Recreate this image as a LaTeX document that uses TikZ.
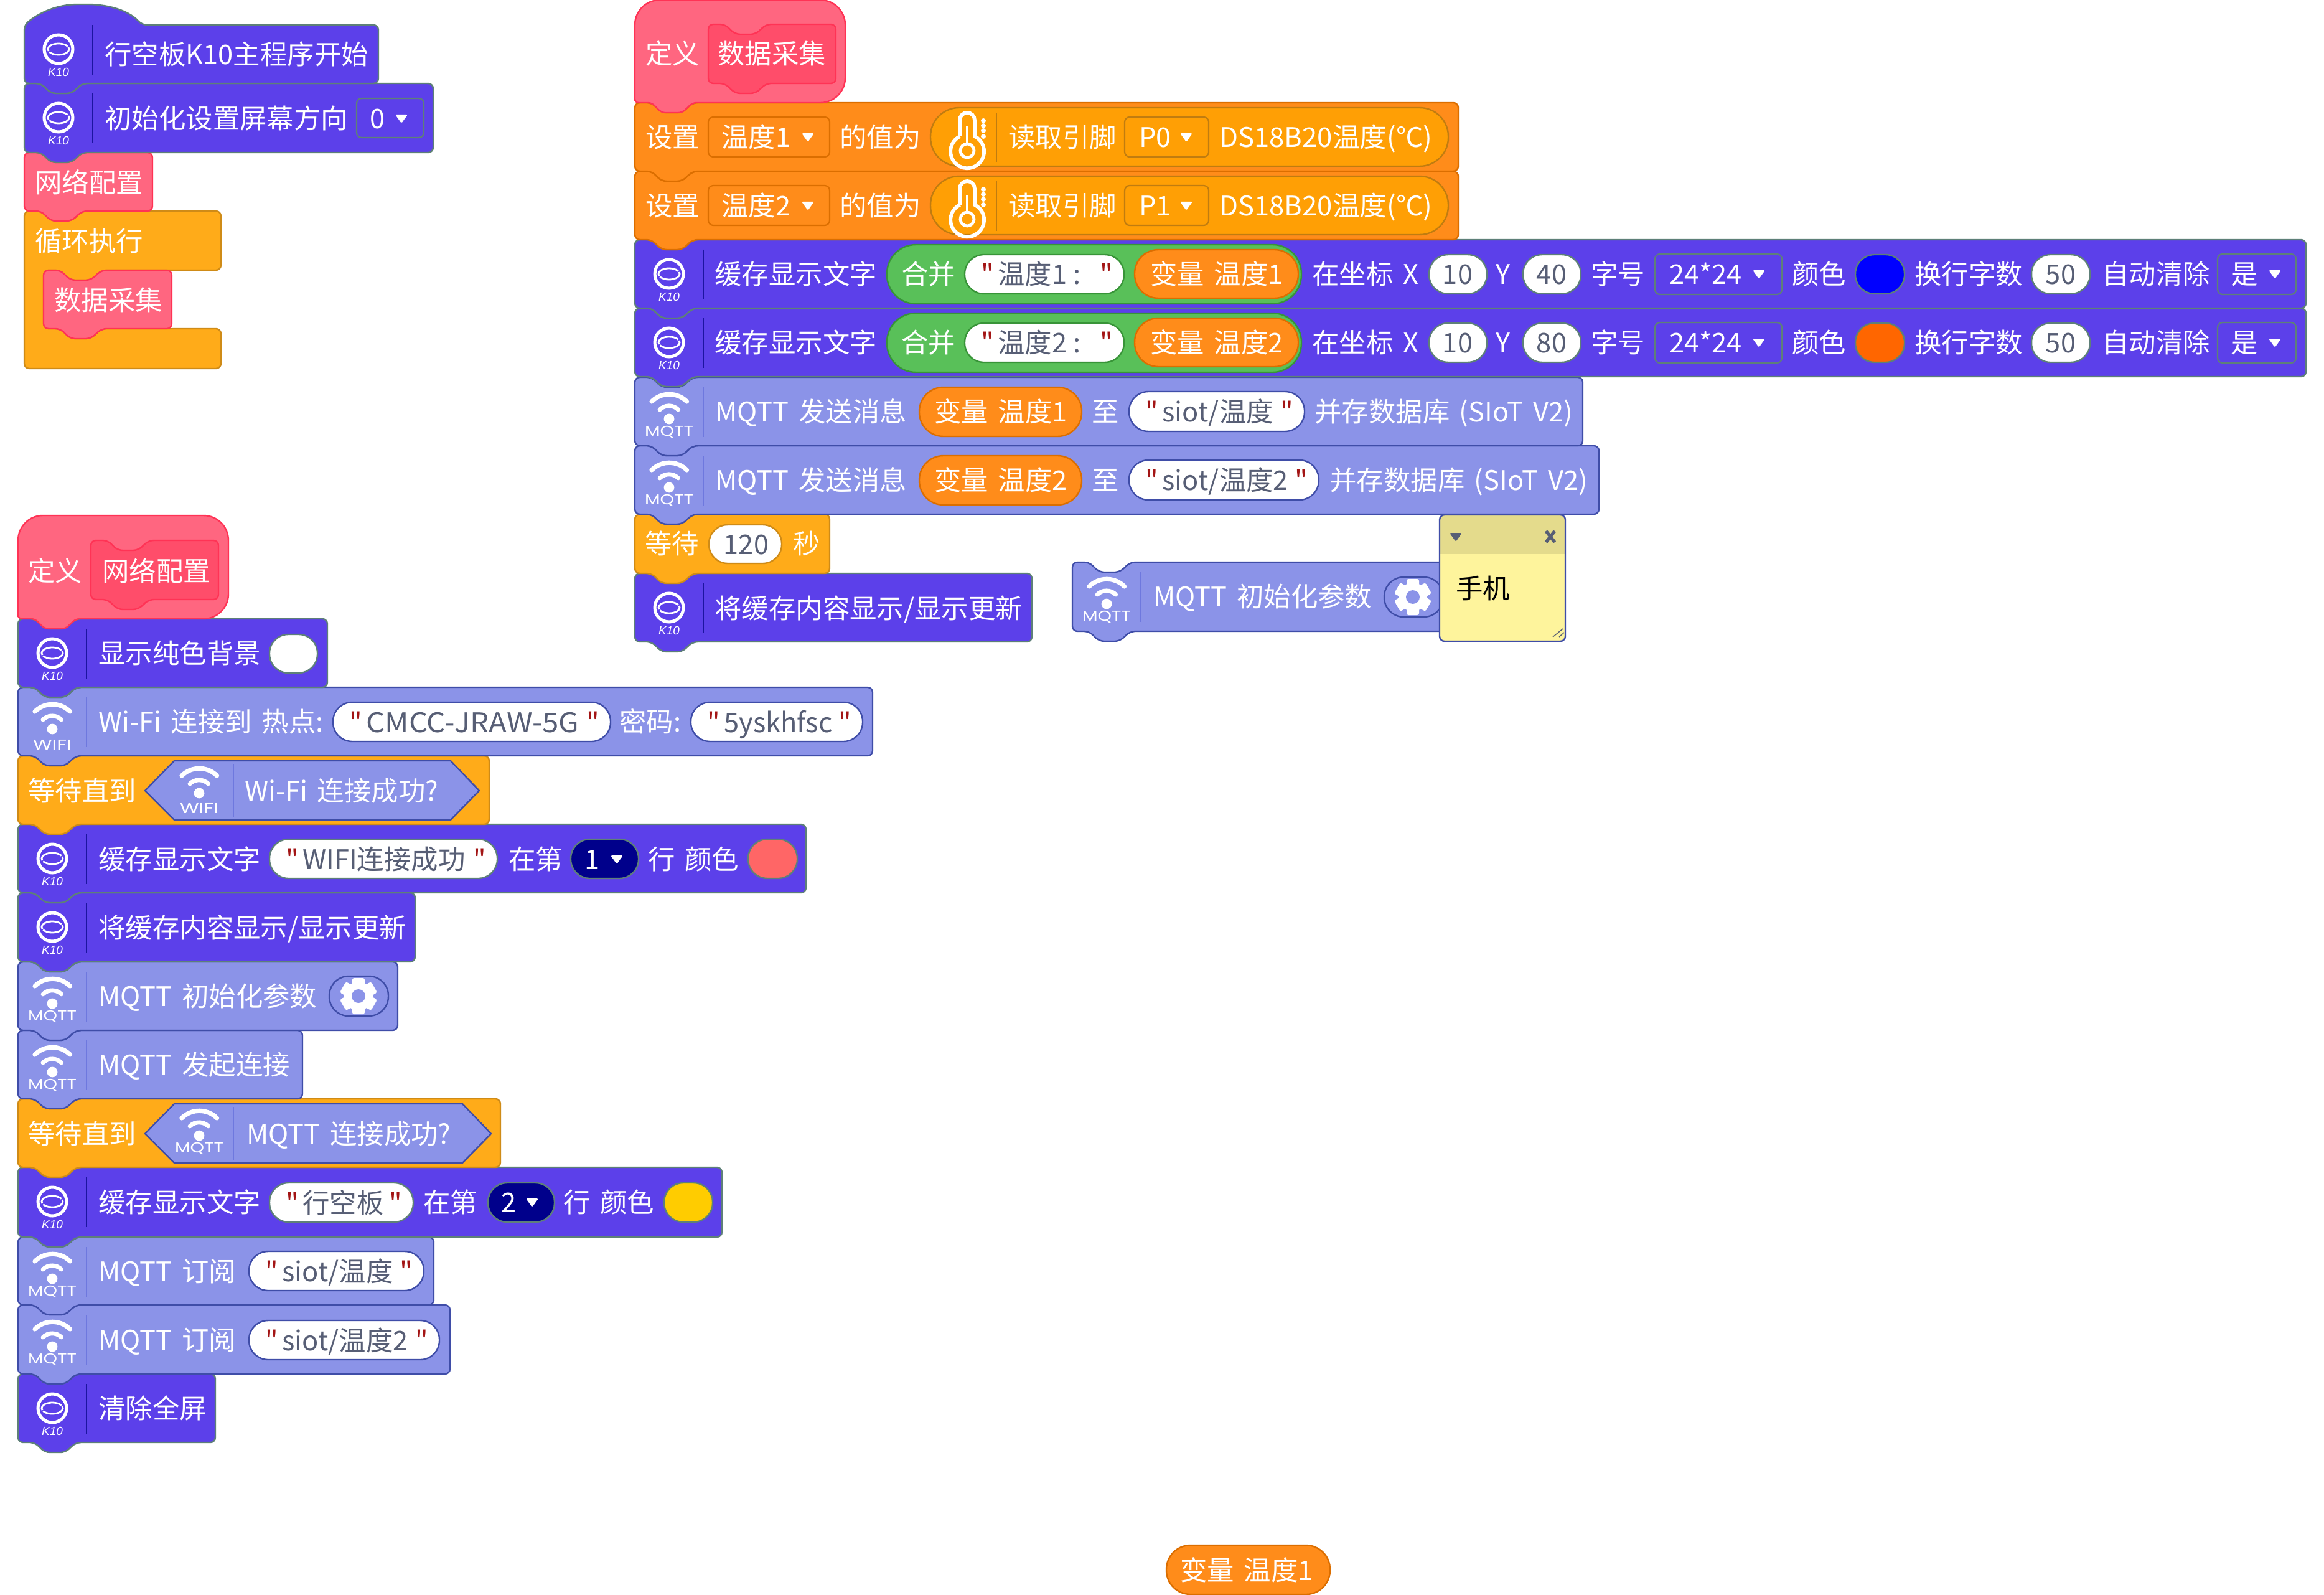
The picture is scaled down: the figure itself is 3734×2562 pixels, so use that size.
\documentclass[tikz,border=0pt]{standalone}
\usepackage{graphicx}
\usepackage{fontspec}
\setmainfont[WordSpace=1.6]{Noto Sans CJK SC}
\newfontfamily\qfont{Noto Sans CJK SC}
\newfontfamily\kfont{Liberation Sans}
\newfontfamily\wfont{Poppins}
\definecolor{kfill}{HTML}{5C40EA}
\definecolor{kedge}{HTML}{5E8078}
\definecolor{ksep}{HTML}{1C14A0}
\definecolor{mfill}{HTML}{8B93E8}
\definecolor{medge}{HTML}{3F4DA8}
\definecolor{msep}{HTML}{6E78DE}
\definecolor{ofill}{HTML}{FF8C1A}
\definecolor{oedge}{HTML}{DB6E00}
\definecolor{rfill}{HTML}{FF9F05}
\definecolor{redge}{HTML}{C07C10}
\definecolor{yfill}{HTML}{FFAB19}
\definecolor{yedge}{HTML}{CF8B17}
\definecolor{pfill}{HTML}{FF6680}
\definecolor{pedge}{HTML}{FF3355}
\definecolor{pinner}{HTML}{FF4D6A}
\definecolor{gfill}{HTML}{59C059}
\definecolor{gedge}{HTML}{389438}
\definecolor{strgrey}{HTML}{575E75}
\definecolor{quotered}{HTML}{A31515}
\definecolor{navyfield}{HTML}{00008B}
\definecolor{notehead}{HTML}{E4DB8C}
\definecolor{notebody}{HTML}{FEF49C}
\definecolor{swatchblue}{HTML}{0000FF}
\definecolor{swatchorange}{HTML}{FF6600}
\definecolor{swatchred}{HTML}{FF6666}
\definecolor{swatchyellow}{HTML}{FFCC00}
\tikzset{
  shapeline/.style={line width=1.2pt,rounded corners=4pt,line join=round},
  kblock/.style={shapeline,fill=kfill,draw=kedge},
  mblock/.style={shapeline,fill=mfill,draw=medge},
  oblock/.style={shapeline,fill=ofill,draw=oedge},
  yblock/.style={shapeline,fill=yfill,draw=yedge},
  pblock/.style={shapeline,fill=pfill,draw=pedge},
  qblock/.style={shapeline,fill=pinner,draw=pedge},
  lbl/.style={font=\fontsize{21.7}{21.7}\selectfont,text=white,inner sep=0pt,text height=19.1pt,text depth=2.6pt},
  grey/.style={lbl,text=strgrey},
  quotemark/.style={lbl,text=quotered,font=\qfont\fontsize{21.7}{21.7}\selectfont},
  fieldbox/.style={line width=1.1pt,rounded corners=4pt}
}
% stacking block with a notch on top and a tab below
\newcommand\stk[5]{\draw[#1] (#2,#3) -- (#2+27,#3) -- (#2+43,#3+16) -- (#2+76,#3+16) -- (#2+93,#3) -- (#4,#3) -- (#4,#5) -- (#2+93,#5) -- (#2+76,#5+16) -- (#2+43,#5+16) -- (#2+27,#5) -- (#2,#5) -- cycle;}
% pill shape with fully rounded ends
\newcommand\pill[6]{\pgfmathsetmacro\pr{((#4)-(#2))*0.245}\draw[line width=1.2pt,fill=#5,draw=#6,rounded corners=\pr pt] (#1,#2) rectangle (#3,#4);}
\newcommand\tx[3]{\node[lbl,anchor=west] at (#1,#2) {#3};}
\newcommand\tc[3]{\node[lbl] at (#1,#2) {#3};}
\newcommand\gc[3]{\node[grey] at (#1,#2) {#3};}
% string input: quotes sit at fixed distances from the pill ends
\newcommand\strin[6]{\pill{#1}{#2}{#3}{#4}{white}{#5}
  \pgfmathsetmacro\sy{((#2)+(#4))/2}
  \node[quotemark,anchor=west] at (#1+26,\sy) {"};
  \node[grey,anchor=west] at (#1+53,\sy) {#6};
  \node[quotemark,anchor=west] at (#3-39,\sy) {"};}
\newcommand\drop[2]{\fill[white,rounded corners=0.9pt] (#1-10,#2-6) -- (#1+10,#2-6) -- (#1,#2+8) -- cycle;}
\newcommand\field[5]{\draw[fieldbox,draw=#5] (#1,#2) rectangle (#3,#4);}
% controller logo with its divider
\newcommand\kicon[2]{
  \draw[white,line width=2.5pt] (#1+55,#2+55) circle[radius=11.5pt];
  \draw[white,line width=1.4pt] (#1+55+14.7,#2+55-4.5) arc[start angle=30,end angle=200,x radius=8.5pt,y radius=4.5pt];
  \draw[white,line width=1.4pt] (#1+55-14.7,#2+55+4.5) arc[start angle=210,end angle=380,x radius=8.5pt,y radius=4.5pt];
  \node[inner sep=0pt,text=white,font=\kfont\itshape\fontsize{9.5}{9.5}\selectfont] at (#1+55,#2+92) {K10};
  \draw[ksep,line width=1.2pt] (#1+110,#2+16) -- (#1+110,#2+96);}
% wireless symbol with a caption
\newcommand\wifi[5]{
  \fill[white] (#1+55,#2+67) circle[radius=4.2pt];
  \draw[white,line width=3.6pt,line cap=round] (#1+55-28,#2+67-28) arc[start angle=135,end angle=45,radius=20pt];
  \draw[white,line width=3.4pt,line cap=round] (#1+55-15,#2+67-15) arc[start angle=135,end angle=45,radius=10.5pt];
  \node[inner sep=0pt,text=white,font=\wfont\fontsize{11.5}{11.5}\selectfont] at (#1+55,#2+#4) {\resizebox{#3}{\height}{#5}};}
\newcommand\msep[2]{\draw[msep,line width=1pt] (#1,#2+16) -- (#1,#2+96);}
\newcommand\gear[3]{
  \fill[white] (#1,#2) circle[radius=11.5pt];
  \foreach \a in {0,60,120}{\fill[white,rotate around={\a:(#1,#2)},rounded corners=1.5pt] (#1-10,#2-29) rectangle (#1+10,#2+29);}
  \fill[#3] (#1,#2) circle[radius=5.5pt];}
\newcommand\thermo[2]{
  \draw[white,line width=2.9pt] (#1-12,#2+54) -- (#1-12,#2+28) arc[start angle=180,end angle=0,radius=6pt] -- (#1+12,#2+54) arc[start angle=64,end angle=-244,radius=13.5pt];
  \draw[white,line width=2.4pt] (#1,#2+77) circle[radius=5.5pt];
  \draw[white,line width=2pt] (#1,#2+38) -- (#1,#2+66);
  \foreach \d in {29,37,45,54}{\fill[white] (#1+26,#2+\d) circle[radius=2pt];}}
% "set variable" row
\newcommand\setrow[3]{
  \tx{1037}{#1+55}{设置}
  \field{1138}{#1+23}{1333}{#1+87}{oedge}
  \tx{1159}{#1+55}{#2}\drop{1298}{#1+55}
  \tx{1349}{#1+55}{的值为}
  \pill{1495}{#1+8}{2327}{#1+102}{rfill}{redge}
  \thermo{1554}{#1}
  \draw[redge,line width=0.8pt] (1601,#1+16) -- (1601,#1+96);
  \tx{1620}{#1+55}{读取引脚}
  \field{1807}{#1+23}{1942}{#1+87}{redge}
  \tx{1830}{#1+55}{#3}\drop{1906}{#1+55}
  \tx{1959}{#1+55}{\resizebox{171pt}{\height}{DS18B20温度(℃)}}}
% "buffer text at position" row
\newcommand\bufrow[5]{
  \kicon{1020}{#1}
  \tx{1148}{#1+55}{缓存显示文字}
  \pill{1425}{#1+8}{2091}{#1+103}{gfill}{gedge}
  \tx{1448}{#1+55}{合并}
  \strin{1550}{#1+24}{1806}{#1+87}{gedge}{#2}
  \pill{1823}{#1+16}{2086}{#1+94}{ofill}{oedge}
  \tc{1955}{#1+55}{变量 #3}
  \tx{2108}{#1+55}{在坐标 X}
  \pill{2296}{#1+24}{2389}{#1+87}{white}{kedge}\gc{2342}{#1+55}{10}
  \tc{2415}{#1+55}{Y}
  \pill{2447}{#1+24}{2540}{#1+87}{white}{kedge}\gc{2493}{#1+55}{#4}
  \tx{2556}{#1+55}{字号}
  \field{2659}{#1+23}{2863}{#1+88}{kedge}
  \tx{2682}{#1+55}{24*24}\drop{2826}{#1+55}
  \tx{2879}{#1+55}{颜色}
  \pill{2981}{#1+24}{3060}{#1+87}{#5}{kedge}
  \tx{3076}{#1+55}{换行字数}
  \pill{3264}{#1+24}{3358}{#1+87}{white}{kedge}\gc{3311}{#1+55}{50}
  \tx{3377}{#1+55}{自动清除}
  \field{3563}{#1+23}{3689}{#1+88}{kedge}
  \tx{3584}{#1+55}{是}\drop{3655}{#1+55}}
% "send message" row
\newcommand\sendrow[5]{
  \wifi{1020}{#1}{39pt}{88}{MQTT}
  \msep{1130}{#1}
  \tx{1149}{#1+55}{MQTT 发送消息}
  \pill{1477}{#1+16}{1738}{#1+95}{ofill}{oedge}
  \tc{1608}{#1+55}{变量 #2}
  \tx{1754}{#1+55}{至}
  \strin{1814}{#1+23}{#4}{#1+87}{medge}{#3}
  \tx{#5}{#1+55}{并存数据库 (SIoT V2)}}
\begin{document}
\begin{tikzpicture}[x=0.5pt,y=-0.5pt]
\useasboundingbox (0,0) rectangle (3734,2562);
\fill[white] (0,0) rectangle (3734,2562);

% ---- start-up stack
\draw[yblock] (39,339) -- (66,339) -- (82,355) -- (115,355) -- (132,339) -- (355,339) -- (355,434) -- (163,434) -- (146,450) -- (113,450) -- (97,434) -- (70,434) -- (70,528) -- (97,528) -- (113,544) -- (146,544) -- (163,528) -- (355,528) -- (355,592) -- (39,592) -- cycle;
\stk{pblock}{70}{434}{276}{528}
\stk{pblock}{39}{245}{245}{339}
\stk{kblock}{39}{134}{696}{245}
\draw[kblock] (39,40) .. controls (70,15) and (100,7) .. (133,7) .. controls (170,7) and (205,15) .. (228,40) -- (608,40) -- (608,134) -- (132,134) -- (115,150) -- (82,150) -- (66,134) -- (39,134) -- cycle;
\kicon{39}{24}
\tx{168}{87}{行空板K10主程序开始}
\kicon{39}{134}
\tx{168}{190}{初始化设置屏幕方向}
\field{573}{158}{681}{221}{kedge}
\tc{607}{190}{0}\drop{645}{190}
\tx{56}{293}{网络配置}
\tx{56}{387}{循环执行}
\tx{87}{482}{数据采集}

% ---- data collection stack
\stk{kblock}{1020}{921}{1658}{1031}
\stk{yblock}{1020}{826}{1333}{921}
\stk{mblock}{1020}{716}{2569}{826}
\stk{mblock}{1020}{606}{2543}{716}
\stk{kblock}{1020}{495}{3705}{605}
\stk{kblock}{1020}{385}{3705}{495}
\stk{oblock}{1020}{275}{2343}{385}
\stk{oblock}{1020}{165}{2343}{275}
\draw[pblock] (1020,165) [rounded corners=20pt] -- (1020,0) -- (1358,0) -- (1358,165) [rounded corners=3pt] -- (1113,165) -- (1096,181) -- (1063,181) -- (1047,165) -- (1020,165) -- cycle;
\stk{qblock}{1138}{39}{1343}{134}
\tx{1037}{86}{定义}
\tx{1153}{86}{数据采集}
\setrow{165}{温度1}{P0}
\setrow{275}{温度2}{P1}
\bufrow{385}{温度1\hspace{5pt}:}{温度1}{40}{swatchblue}
\bufrow{495}{温度2\hspace{5pt}:}{温度2}{80}{swatchorange}
\sendrow{606}{温度1}{siot/温度}{2096}{2112}
\sendrow{716}{温度2}{siot/温度2}{2119}{2136}
\tx{1036}{873}{等待}
\pill{1139}{843}{1256}{905}{white}{yedge}\gc{1199}{874}{120}
\tx{1274}{873}{秒}
\kicon{1020}{921}
\tx{1148}{977}{将缓存内容显示/显示更新}

% ---- free block with its note
\stk{mblock}{1723}{903}{2330}{1014}
\wifi{1723}{903}{39pt}{88}{MQTT}
\msep{1833}{903}
\tx{1853}{958}{MQTT 初始化参数}
\pill{2224}{927}{2319}{991}{mfill}{medge}
\gear{2270}{959}{mfill}
\begin{scope}
  \clip[rounded corners=4pt] (2313,827) rectangle (2515,1030);
  \fill[notebody] (2313,827) rectangle (2515,1030);
  \fill[notehead] (2313,827) rectangle (2515,890);
\end{scope}
\draw[line width=1.2pt,draw=medge,rounded corners=4pt] (2313,827) rectangle (2515,1030);
\fill[strgrey,rounded corners=0.8pt] (2329,856) -- (2349,856) -- (2339,870) -- cycle;
\draw[strgrey,line width=2.6pt] (2484,853) -- (2498,871) (2498,853) -- (2484,871);
\draw[strgrey,line width=0.7pt] (2495,1023) -- (2511,1010) (2505,1023) -- (2513,1016);
\node[lbl,text=black,anchor=west] at (2339,945) {手机};

% ---- network setup stack
\stk{kblock}{29}{2207}{346}{2317}
\stk{mblock}{29}{2096}{723}{2207}
\stk{mblock}{29}{1987}{697}{2096}
\stk{kblock}{29}{1875}{1160}{1987}
\stk{yblock}{29}{1765}{804}{1875}
\stk{mblock}{29}{1655}{486}{1765}
\stk{mblock}{29}{1545}{639}{1655}
\stk{kblock}{29}{1434}{667}{1545}
\stk{kblock}{29}{1324}{1295}{1434}
\stk{yblock}{29}{1214}{786}{1324}
\stk{mblock}{29}{1104}{1402}{1214}
\stk{kblock}{29}{994}{526}{1104}
\draw[pblock] (29,994) [rounded corners=20pt] -- (29,828) -- (367,828) -- (367,994) [rounded corners=3pt] -- (122,994) -- (105,1010) -- (72,1010) -- (56,994) -- (29,994) -- cycle;
\stk{qblock}{146}{868}{351}{963}
\tx{45}{917}{定义}
\tx{164}{917}{网络配置}

\kicon{29}{994}
\tx{158}{1049}{显示纯色背景}
\pill{433}{1019}{510}{1081}{white}{kedge}

\wifi{29}{1104}{31pt}{92}{WIFI}
\msep{139}{1104}
\tx{158}{1159}{Wi-Fi 连接到 热点:}
\strin{535}{1128}{981}{1191}{medge}{\resizebox{171pt}{\height}{CMCC-JRAW-5G}}
\tx{995}{1159}{密码:}
\strin{1110}{1128}{1386}{1191}{medge}{5yskhfsc}

\tx{45}{1270}{等待直到}
\draw[line width=1.2pt,fill=mfill,draw=medge,line join=round] (233,1270) -- (280,1222) -- (724,1222) -- (770,1270) -- (724,1317) -- (280,1317) -- cycle;
\wifi{265}{1207}{31pt}{91}{WIFI}
\draw[msep,line width=1pt] (375,1227) -- (375,1312);
\tx{393}{1270}{Wi-Fi 连接成功?}

\kicon{29}{1324}
\tx{158}{1380}{缓存显示文字}
\strin{433}{1348}{799}{1411}{kedge}{WIFI连接成功}
\tx{817}{1380}{在第}
\pill{917}{1348}{1026}{1411}{navyfield}{kedge}
\tc{952}{1380}{1}\drop{991}{1380}
\tx{1041}{1380}{行 颜色}
\pill{1202}{1348}{1281}{1411}{swatchred}{kedge}

\kicon{29}{1434}
\tx{158}{1490}{将缓存内容显示/显示更新}

\wifi{29}{1545}{39pt}{88}{MQTT}
\msep{139}{1545}
\tx{158}{1600}{MQTT 初始化参数}
\pill{529}{1568}{624}{1632}{mfill}{medge}
\gear{576}{1600}{mfill}

\wifi{29}{1655}{39pt}{88}{MQTT}
\msep{139}{1655}
\tx{158}{1710}{MQTT 发起连接}

\tx{45}{1821}{等待直到}
\draw[line width=1.2pt,fill=mfill,draw=medge,line join=round] (233,1821) -- (280,1773) -- (743,1773) -- (789,1821) -- (743,1868) -- (280,1868) -- cycle;
\wifi{265}{1757}{39pt}{88}{MQTT}
\draw[msep,line width=1pt] (375,1778) -- (375,1863);
\tx{396}{1821}{MQTT 连接成功?}

\kicon{29}{1875}
\tx{158}{1931}{缓存显示文字}
\strin{433}{1900}{664}{1963}{kedge}{行空板}
\tx{680}{1931}{在第}
\pill{784}{1900}{891}{1963}{navyfield}{kedge}
\tc{818}{1931}{2}\drop{855}{1931}
\tx{905}{1931}{行 颜色}
\pill{1067}{1900}{1145}{1963}{swatchyellow}{kedge}

\wifi{29}{1987}{39pt}{88}{MQTT}
\msep{139}{1987}
\tx{158}{2042}{MQTT 订阅}
\strin{400}{2010}{681}{2073}{medge}{siot/温度}

\wifi{29}{2096}{39pt}{88}{MQTT}
\msep{139}{2096}
\tx{158}{2152}{MQTT 订阅}
\strin{400}{2121}{706}{2184}{medge}{siot/温度2}

\kicon{29}{2207}
\tx{158}{2262}{清除全屏}

% ---- lone variable reporter
\pill{1874}{2482}{2137}{2561}{ofill}{oedge}
\tc{2003}{2522}{变量 温度1}
\end{tikzpicture}
\end{document}
